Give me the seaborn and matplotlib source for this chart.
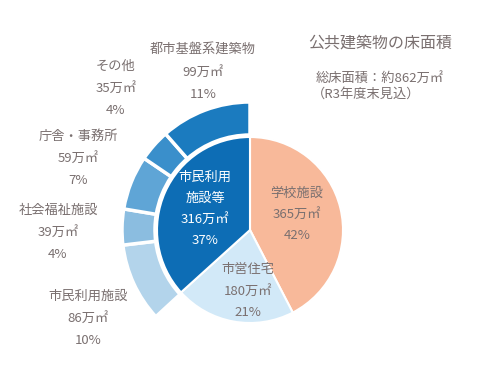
import matplotlib.pyplot as plt
import seaborn as sns

# inner pie: 学校施設 / 市営住宅 / 市民利用施設等
inner_labels = ["学校施設", "市営住宅", "市民利用\n施設等"]
inner_values = [365, 180, 316]
inner_pcts = [42, 21, 37]

# outer ring: breakdown of 市民利用施設等 (clockwise from lower left)
outer_labels = ["市民利用施設", "社会福祉施設", "庁舎・事務所", "その他", "都市基盤系建築物"]
outer_values = [86, 39, 59, 35, 99]
outer_pcts = [10, 4, 7, 4, 11]

TOTAL_TEXT = "総床面積：約862万㎡"
NOTE_TEXT = "（R3年度末見込）"
TITLE = "公共建築物の床面積"

W, H = 495, 389
CX, CY = 250, H - 230
TEXT_COLOR = "#7a7070"


def px(x, y):
    return x, H - y


def label_block(ax, x, y, lines, color=TEXT_COLOR, step=22, size=9.5):
    for i, line in enumerate(lines):
        ax.text(*px(x, y + i * step), line, ha="center", va="center",
                fontsize=size, color=color)


def main() -> None:
    sns.set_theme(style="white")
    plt.rcParams["font.family"] = ["Noto Sans CJK JP", "DejaVu Sans"]

    fig = plt.figure(figsize=(W / 100, H / 100), dpi=100)
    ax = fig.add_axes([0, 0, 1, 1])
    ax.set_xlim(0, W)
    ax.set_ylim(0, H)
    ax.set_aspect("equal")
    ax.axis("off")

    inner_colors = ["#f8b99a", "#d2e9f8", "#0d6db5"]
    ax.pie(inner_values, colors=inner_colors, startangle=90, counterclock=False,
           radius=93, center=(CX, CY),
           wedgeprops={"edgecolor": "white", "linewidth": 1.5})

    outer_colors = ["#b3d4eb", "#8bbde0", "#5fa5d6", "#3a8fcb", "#1b7bbf"]
    ring_values = inner_values[:2] + outer_values
    ring_colors = ["none", "none"] + outer_colors
    wedges, _ = ax.pie(ring_values, colors=ring_colors, startangle=90, counterclock=False,
                       radius=128, center=(CX, CY),
                       wedgeprops={"width": 33, "edgecolor": "white", "linewidth": 2.5})
    for w in wedges[:2]:
        w.set_edgecolor("none")
    ax.set_xlim(0, W)
    ax.set_ylim(0, H)

    # inner labels
    label_block(ax, 205, 177, ["市民利用", "施設等", f"{inner_values[2]}万㎡", f"{inner_pcts[2]}%"],
                color="white", step=21)
    label_block(ax, 297, 193, [inner_labels[0], f"{inner_values[0]}万㎡", f"{inner_pcts[0]}%"], step=21)
    label_block(ax, 248, 270, [inner_labels[1], f"{inner_values[1]}万㎡", f"{inner_pcts[1]}%"], step=21)

    # outer labels
    positions = [(88, 296), (58, 210), (78, 136), (116, 66), (203, 50)]
    for (x, y), name, v, p in zip(positions, outer_labels, outer_values, outer_pcts):
        label_block(ax, x, y, [name, f"{v}万㎡", f"{p}%"])

    ax.text(*px(380, 43), TITLE, ha="center", va="center", fontsize=11.5, color=TEXT_COLOR)
    ax.text(*px(316, 78), TOTAL_TEXT, ha="left", va="center", fontsize=9.5, color=TEXT_COLOR)
    ax.text(*px(312, 94), NOTE_TEXT, ha="left", va="center", fontsize=9.5, color=TEXT_COLOR)

    fig.savefig("out.png", dpi=100, facecolor="white")
    plt.close(fig)


if __name__ == "__main__":
    main()
